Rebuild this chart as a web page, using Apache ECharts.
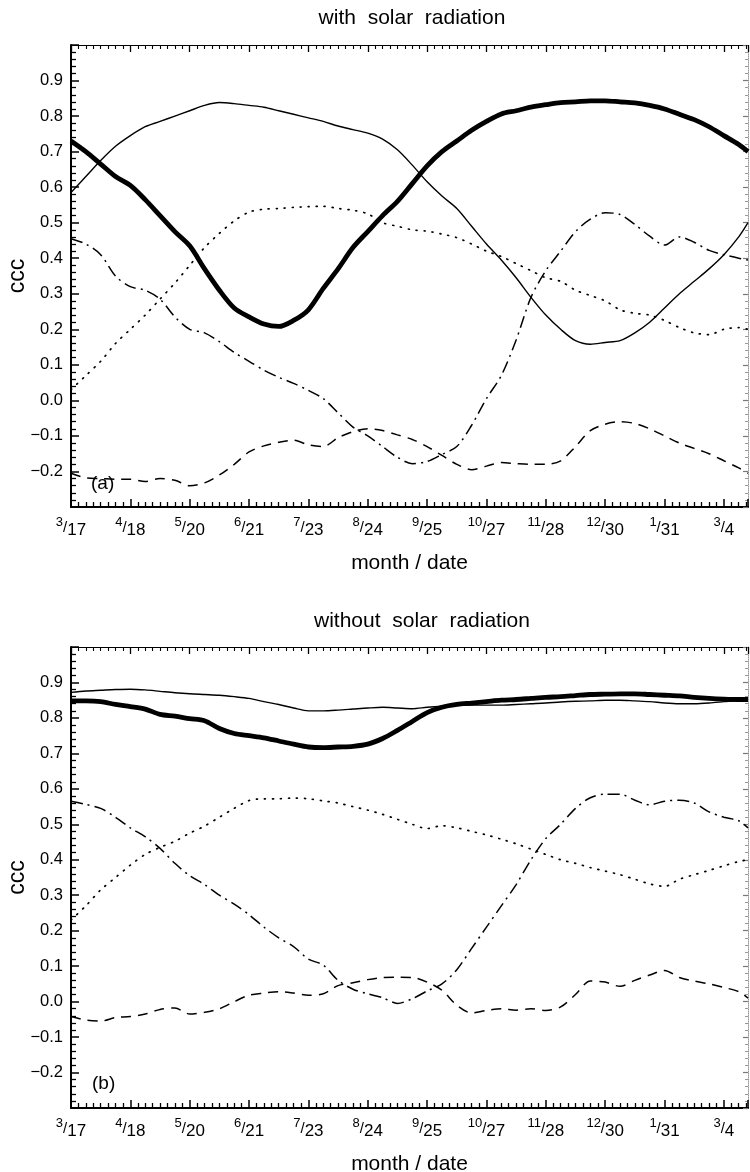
<!DOCTYPE html>
<html><head><meta charset="utf-8">
<script src="https://cdn.jsdelivr.net/npm/echarts@6/dist/echarts.min.js"></script>
<style>html,body{margin:0;padding:0;background:#fff}#c{width:750px;height:1172px}</style>
</head><body><div id="c"></div>
<script>
// days after 3/17
const days = [0,8,16,24,32,40,48,56,64,72,80,88,96,104,112,120,128,136,144,152,160,168,176,184,192,200,208,216,224,232,240,248,256,264,272,280,288,296,304,312,320,328,336,344,352,360,365];
const xTickLabels = ['3/17','4/18','5/20','6/21','7/23','8/24','9/25','10/27','11/28','12/30','1/31','3/4'];

// (a) with solar radiation
const aThick = [0.73,0.70,0.665,0.63,0.605,0.565,0.52,0.475,0.435,0.37,0.31,0.26,0.235,0.215,0.208,0.225,0.255,0.315,0.37,0.43,0.475,0.52,0.56,0.61,0.66,0.70,0.73,0.76,0.785,0.806,0.815,0.825,0.832,0.838,0.84,0.843,0.843,0.84,0.837,0.83,0.82,0.805,0.79,0.77,0.745,0.72,0.70];
const aThin = [0.585,0.63,0.675,0.715,0.745,0.77,0.785,0.80,0.815,0.83,0.838,0.835,0.83,0.825,0.815,0.805,0.795,0.785,0.772,0.762,0.752,0.735,0.705,0.662,0.615,0.575,0.54,0.49,0.44,0.395,0.345,0.29,0.24,0.20,0.168,0.158,0.163,0.168,0.19,0.22,0.26,0.30,0.335,0.37,0.41,0.46,0.50];
const aDotted = [0.03,0.07,0.11,0.16,0.20,0.24,0.285,0.33,0.38,0.43,0.47,0.505,0.53,0.538,0.54,0.543,0.545,0.546,0.54,0.535,0.525,0.50,0.49,0.48,0.476,0.468,0.458,0.44,0.42,0.405,0.385,0.365,0.345,0.335,0.31,0.295,0.28,0.255,0.245,0.24,0.225,0.205,0.19,0.185,0.20,0.205,0.20];
const aDashDot = [0.455,0.44,0.41,0.35,0.32,0.31,0.285,0.235,0.20,0.19,0.165,0.135,0.11,0.085,0.065,0.048,0.028,0.005,-0.035,-0.075,-0.10,-0.13,-0.16,-0.178,-0.172,-0.152,-0.13,-0.07,0.005,0.07,0.17,0.29,0.365,0.42,0.475,0.51,0.528,0.523,0.495,0.462,0.437,0.46,0.445,0.422,0.41,0.40,0.395];
const aDashed = [-0.205,-0.218,-0.22,-0.222,-0.222,-0.228,-0.22,-0.225,-0.24,-0.232,-0.21,-0.18,-0.145,-0.128,-0.118,-0.112,-0.125,-0.13,-0.105,-0.088,-0.08,-0.085,-0.097,-0.11,-0.13,-0.155,-0.18,-0.195,-0.185,-0.175,-0.178,-0.18,-0.18,-0.17,-0.13,-0.085,-0.067,-0.06,-0.065,-0.08,-0.10,-0.12,-0.135,-0.15,-0.17,-0.19,-0.205];

// (b) without solar radiation
const bThick = [0.848,0.848,0.846,0.838,0.832,0.825,0.81,0.805,0.798,0.792,0.77,0.756,0.75,0.744,0.735,0.726,0.718,0.716,0.718,0.72,0.726,0.742,0.765,0.79,0.815,0.83,0.838,0.842,0.846,0.85,0.852,0.855,0.858,0.86,0.863,0.866,0.867,0.868,0.868,0.866,0.864,0.862,0.858,0.855,0.853,0.852,0.852];
const bThin = [0.872,0.876,0.878,0.88,0.881,0.879,0.875,0.871,0.868,0.866,0.864,0.86,0.855,0.846,0.838,0.828,0.82,0.82,0.822,0.825,0.828,0.83,0.828,0.826,0.83,0.833,0.835,0.836,0.836,0.836,0.838,0.84,0.842,0.845,0.847,0.848,0.85,0.85,0.848,0.846,0.842,0.84,0.84,0.842,0.846,0.85,0.855];
const bDotted = [0.23,0.27,0.315,0.35,0.385,0.415,0.435,0.452,0.475,0.495,0.52,0.545,0.567,0.572,0.572,0.574,0.572,0.566,0.56,0.55,0.54,0.528,0.514,0.50,0.488,0.496,0.49,0.48,0.47,0.458,0.445,0.43,0.415,0.40,0.39,0.378,0.368,0.358,0.345,0.332,0.325,0.345,0.358,0.37,0.383,0.395,0.40];
const bDashDot = [0.565,0.556,0.545,0.52,0.49,0.465,0.432,0.39,0.355,0.33,0.30,0.275,0.245,0.21,0.18,0.155,0.12,0.103,0.06,0.035,0.022,0.011,-0.005,0.008,0.03,0.05,0.09,0.15,0.21,0.27,0.33,0.40,0.46,0.50,0.545,0.575,0.585,0.585,0.568,0.555,0.565,0.568,0.56,0.535,0.52,0.51,0.49];
const bDashed = [-0.042,-0.052,-0.055,-0.045,-0.042,-0.035,-0.022,-0.018,-0.035,-0.03,-0.02,0.0,0.018,0.024,0.028,0.024,0.018,0.022,0.045,0.053,0.062,0.068,0.069,0.068,0.055,0.032,-0.01,-0.032,-0.025,-0.02,-0.024,-0.02,-0.025,-0.015,0.02,0.058,0.055,0.043,0.06,0.075,0.088,0.068,0.058,0.05,0.04,0.028,0.01];

const FONT = '"Liberation Sans", Arial, Helvetica, sans-serif';
const styles = [
  {width: 4.8, type: 'solid'},
  {width: 1.4, type: 'solid'},
  {width: 1.7, type: [1, 7]},
  {width: 1.5, type: [12, 5, 2, 5]},
  {width: 1.5, type: [10, 7]}
];
const zip = vals => days.map((d, i) => [d, vals[i]]);

function xAxes(gridIndex) {
  return [{
    type: 'value', gridIndex, position: 'bottom', min: 0, max: 365, interval: 32,
    name: 'month / date', nameLocation: 'middle', nameGap: 46, nameMoveOverlap: false,
    nameTextStyle: {fontFamily: FONT, fontSize: 21, color: '#000'},
    axisLine: {show: true, onZero: false, lineStyle: {color: '#000', width: 2}},
    axisTick: {show: true, inside: true, length: 8, lineStyle: {color: '#000', width: 1.5}},
    minorTick: {show: true, splitNumber: 8, length: 5, lineStyle: {color: '#000', width: 1.3}},
    splitLine: {show: false},
    showMaxLabel: false,
    axisLabel: {
      margin: 9, color: '#000', fontFamily: FONT,
      formatter: v => {
        const i = Math.round(v / 32);
        if (Math.abs(v - i * 32) > 0.01 || i >= xTickLabels.length) return '';
        const p = xTickLabels[i].split('/');
        return '{m|' + p[0] + '}{s|/}{d|' + p[1] + '}';
      },
      rich: {
        m: {fontSize: 13, verticalAlign: 'top', fontFamily: FONT, color: '#000'},
        s: {fontSize: 15, lineHeight: 23, fontFamily: FONT, color: '#000'},
        d: {fontSize: 17, verticalAlign: 'bottom', fontFamily: FONT, color: '#000'}
      }
    }
  }, {
    type: 'value', gridIndex, position: 'top', min: 0, max: 365, interval: 32,
    axisLine: {show: true, onZero: false, lineStyle: {color: '#000', width: 1.2}},
    axisTick: {show: true, inside: true, length: 7, lineStyle: {color: '#000', width: 1.3}},
    minorTick: {show: true, splitNumber: 8, length: 4, lineStyle: {color: '#000', width: 1.1}},
    splitLine: {show: false}, axisLabel: {show: false}
  }];
}
function yAxes(gridIndex) {
  return [{
    type: 'value', gridIndex, position: 'left', min: -0.3, max: 1.0, interval: 0.1,
    name: 'ccc', nameLocation: 'middle', nameGap: 42, nameMoveOverlap: false,
    nameTextStyle: {fontFamily: FONT, fontSize: 23, color: '#000'},
    axisLine: {show: true, onZero: false, lineStyle: {color: '#000', width: 2}},
    axisTick: {show: true, inside: true, length: 8, lineStyle: {color: '#000', width: 1.5}},
    minorTick: {show: true, splitNumber: 5, length: 5, lineStyle: {color: '#000', width: 1.3}},
    splitLine: {show: false},
    axisLabel: {
      margin: 8, color: '#000', fontFamily: FONT, fontSize: 16.5,
      formatter: v => (v < -0.25 || v > 0.95) ? '' : (v < -0.001 ? '\u2212' : '') + Math.abs(v).toFixed(1)
    }
  }, {
    type: 'value', gridIndex, position: 'right', min: -0.3, max: 1.0, interval: 0.1,
    axisLine: {show: true, onZero: false, lineStyle: {color: '#999', width: 1, type: 'dotted'}},
    axisTick: {show: true, inside: true, length: 5, lineStyle: {color: '#777', width: 1.2}},
    minorTick: {show: true, splitNumber: 5, length: 3, lineStyle: {color: '#999', width: 1}},
    splitLine: {show: false}, axisLabel: {show: false}
  }];
}
function mkSeries(sets, xi, yi) {
  return sets.map((vals, k) => ({
    type: 'line', xAxisIndex: xi, yAxisIndex: yi, data: zip(vals),
    symbol: 'none', smooth: 0.3, silent: true,
    lineStyle: {color: '#000', width: styles[k].width, type: styles[k].type, cap: k === 2 ? 'round' : 'butt'}
  }));
}

const chart = echarts.init(document.getElementById('c'), null, {renderer: 'canvas'});
chart.setOption({
  backgroundColor: '#fff',
  animation: false,
  title: [
    {text: 'with  solar  radiation', left: 412, top: 8, textAlign: 'center', padding: 0,
     textStyle: {fontFamily: FONT, fontSize: 21, fontWeight: 'normal', color: '#000'}},
    {text: 'without  solar  radiation', left: 422, top: 611, textAlign: 'center', padding: 0,
     textStyle: {fontFamily: FONT, fontSize: 21, fontWeight: 'normal', color: '#000'}}
  ],
  grid: [
    {left: 71, top: 45, width: 677, height: 462, containLabel: false, outerBoundsMode: 'none'},
    {left: 71, top: 647, width: 677, height: 461, containLabel: false, outerBoundsMode: 'none'}
  ],
  xAxis: [...xAxes(0), ...xAxes(1)],
  yAxis: [...yAxes(0), ...yAxes(1)],
  graphic: [
    {type: 'text', left: 91, top: 474, style: {text: '(a)', fontFamily: FONT, fontSize: 19, fill: '#000'}},
    {type: 'text', left: 92, top: 1074, style: {text: '(b)', fontFamily: FONT, fontSize: 19, fill: '#000'}}
  ],
  series: [
    ...mkSeries([aThick, aThin, aDotted, aDashDot, aDashed], 0, 0),
    ...mkSeries([bThick, bThin, bDotted, bDashDot, bDashed], 2, 2)
  ]
});
</script></body></html>
